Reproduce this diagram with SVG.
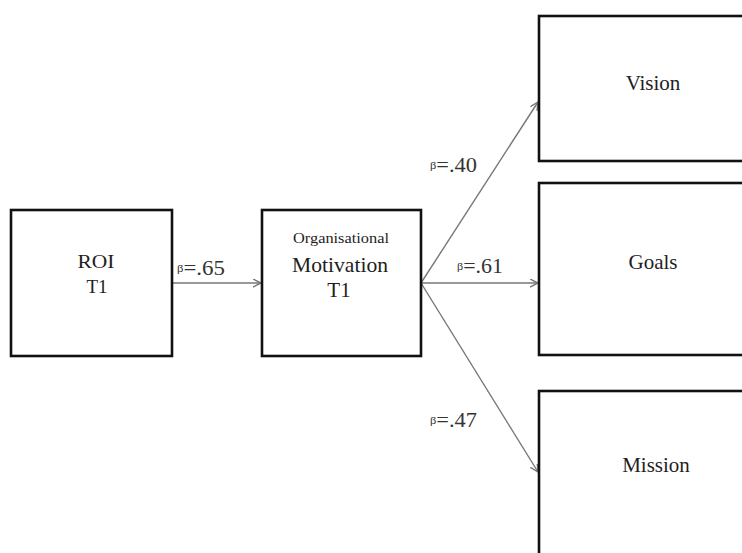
<svg xmlns="http://www.w3.org/2000/svg" width="742" height="553" viewBox="0 0 742 553">
<style>
.box{fill:#fff;stroke:#111;stroke-width:2.6}
.t{font-family:'Liberation Serif','Times New Roman',serif;fill:#1e1e1e;text-anchor:middle}
.lbl{font-family:'Liberation Serif','Times New Roman',serif;fill:#333}
.edge{stroke:#777;stroke-width:1.4;fill:none;marker-end:url(#arr)}
</style>
<defs>
<marker id="arr" markerUnits="userSpaceOnUse" markerWidth="10" markerHeight="10" refX="8" refY="4" orient="auto">
<path d="M0,0 L8,4 L0,8" fill="none" stroke="#777" stroke-width="1.4"/>
</marker>
</defs>
<rect width="742" height="553" fill="#fff"/>
<g id="connectors">
<line class="edge" x1="172" y1="283" x2="261" y2="283"/>
<line class="edge" x1="421" y1="283" x2="538" y2="102"/>
<line class="edge" x1="421" y1="283" x2="538" y2="283"/>
<line class="edge" x1="421" y1="283" x2="538" y2="472"/>
<text class="lbl" x="177" y="275" font-size="20" textLength="48" lengthAdjust="spacingAndGlyphs"><tspan font-size="11" dy="-3">β</tspan><tspan dy="3">=.65</tspan></text>
<text class="lbl" x="430" y="172" font-size="20" textLength="47" lengthAdjust="spacingAndGlyphs"><tspan font-size="11" dy="-3">β</tspan><tspan dy="3">=.40</tspan></text>
<text class="lbl" x="457" y="273" font-size="20" textLength="46" lengthAdjust="spacingAndGlyphs"><tspan font-size="11" dy="-3">β</tspan><tspan dy="3">=.61</tspan></text>
<text class="lbl" x="430" y="427" font-size="20" textLength="47" lengthAdjust="spacingAndGlyphs"><tspan font-size="11" dy="-3">β</tspan><tspan dy="3">=.47</tspan></text>
</g>
<g id="roi">
<rect class="box" x="11" y="210" width="161" height="146"/>
<text class="t" x="96" y="268" font-size="19" textLength="37" lengthAdjust="spacingAndGlyphs">ROI</text>
<text class="t" x="97" y="293" font-size="19">T1</text>
</g>
<g id="motivation">
<rect class="box" x="262" y="210" width="159" height="146"/>
<text class="t" x="341" y="243" font-size="15" textLength="96" lengthAdjust="spacingAndGlyphs">Organisational</text>
<text class="t" x="340" y="272" font-size="21" textLength="96" lengthAdjust="spacingAndGlyphs">Motivation</text>
<text class="t" x="339" y="297" font-size="21">T1</text>
</g>
<g id="vision">
<rect class="box" x="539" y="16" width="220" height="145"/>
<text class="t" x="653" y="90" font-size="21">Vision</text>
</g>
<g id="goals">
<rect class="box" x="539" y="183" width="220" height="172"/>
<text class="t" x="653" y="269" font-size="21">Goals</text>
</g>
<g id="mission">
<rect class="box" x="539" y="391" width="220" height="180"/>
<text class="t" x="656" y="472" font-size="21">Mission</text>
</g>
</svg>
